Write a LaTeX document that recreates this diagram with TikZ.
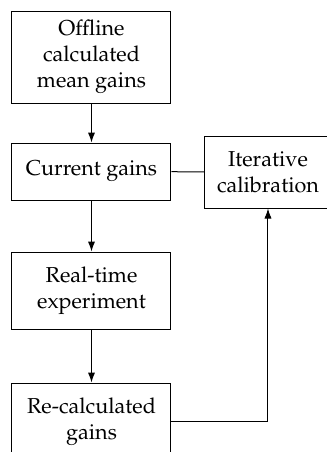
\documentclass[tikz,border=0pt]{standalone}
\usepackage[T1]{fontenc}
\usepackage{mathpazo}
\usetikzlibrary{positioning,arrows.meta}

\begin{document}
\begin{tikzpicture}[x=1pt,y=1pt,
		box/.style={draw,line width=0.5pt,align=center,minimum width=79.5pt,inner sep=2pt,font=\fontsize{10.8}{13}\selectfont},
		flow/.style={line width=0.5pt,-{Latex[length=5pt,width=3.6pt]}}]
		\useasboundingbox (0,0) rectangle (163.5,-226);
		\clip (0,0) rectangle (163.5,-226);
		\node[box,minimum height=46pt] (offline) at (45.75,-28.5) {Offline\\calculated\\mean gains};
		\node[box,minimum height=28.5pt] (current) at (45.75,-85.75) {Current gains};
		\node[box,minimum height=38.5pt] (realtime) at (45.75,-145.25) {Real-time\\experiment};
		\node[box,minimum height=38.5pt] (recalc) at (45.75,-210.75) {Re-calculated\\gains};
		\node[box,minimum width=63pt,minimum height=36pt] (iter) at (134,-86) {Iterative\\calibration};
		\draw[flow] (offline) -- (current);
		\draw[flow] (current) -- (realtime);
		\draw[flow] (realtime) -- (recalc);
		\draw[line width=0.5pt] (current) -- (iter);
		\draw[flow] (recalc.east) -| (iter.south);
	\end{tikzpicture}
\end{document}
